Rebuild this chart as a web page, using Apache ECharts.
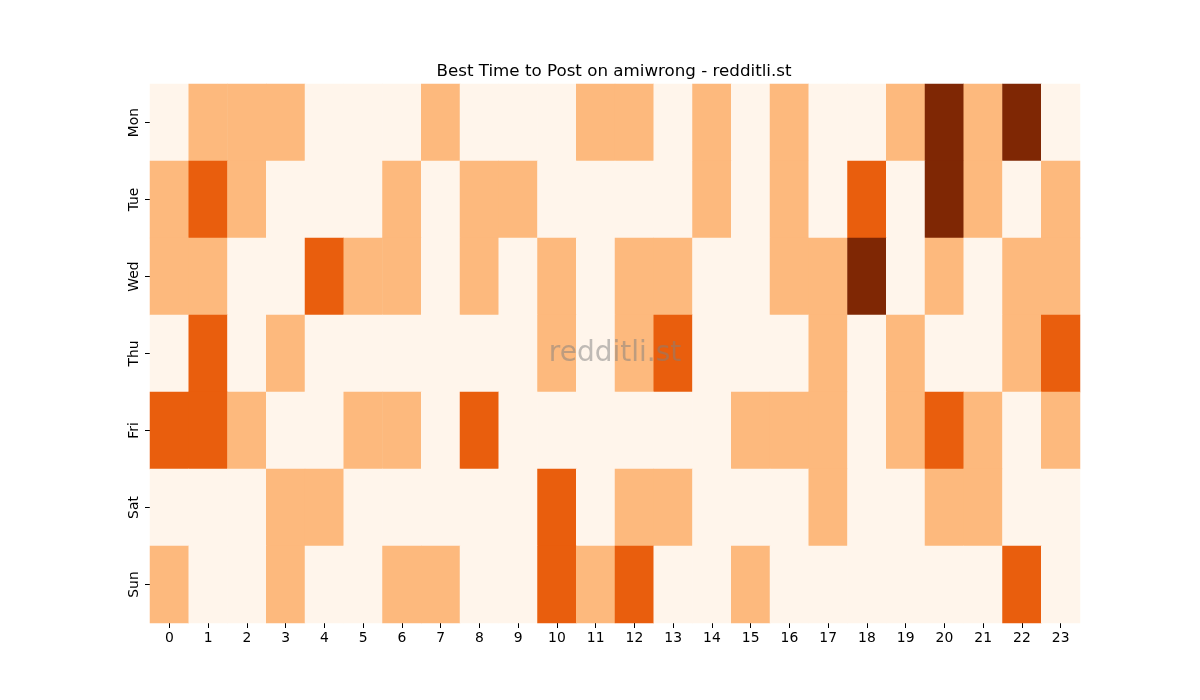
<!DOCTYPE html>
<html>
<head>
<meta charset="utf-8">
<script src="https://cdn.jsdelivr.net/npm/echarts@6/dist/echarts.min.js"></script>
<style>
  html, body { margin: 0; padding: 0; background: #fff; }
  #chart { width: 1200px; height: 700px; }
</style>
</head>
<body>
<div id="chart"></div>
<script>
const hours = ['0','1','2','3','4','5','6','7','8','9','10','11','12','13','14','15','16','17','18','19','20','21','22','23']
const days = ['Mon', 'Tue', 'Wed', 'Thu', 'Fri', 'Sat', 'Sun']

// activity level per hour, one row per day
const mon = [0,1,1,1,0,0,0,1,0,0,0,1,1,0,1,0,1,0,0,1,3,1,3,0]
const tue = [1,2,1,0,0,0,1,0,1,1,0,0,0,0,1,0,1,0,2,0,3,1,0,1]
const wed = [1,1,0,0,2,1,1,0,1,0,1,0,1,1,0,0,1,1,3,0,1,0,1,1]
const thu = [0,2,0,1,0,0,0,0,0,0,1,0,1,2,0,0,0,1,0,1,0,0,1,2]
const fri = [2,2,1,0,0,1,1,0,2,0,0,0,0,0,0,1,1,1,0,1,2,1,0,1]
const sat = [0,0,0,1,1,0,0,0,0,0,2,0,1,1,0,0,0,1,0,0,1,1,0,0]
const sun = [1,0,0,1,0,0,1,1,0,0,2,1,2,0,0,1,0,0,0,0,0,0,2,0]

const rows = [mon, tue, wed, thu, fri, sat, sun]
const cells = []
rows.forEach((row, d) => {
  row.forEach((v, h) => cells.push([h, d, v]))
})

const chart = echarts.init(document.getElementById('chart'))
const font = 'DejaVu Sans'
const option = {
  animation: false,
  title: {
    text: 'Best Time to Post on amiwrong - redditli.st',
    left: 609,
    textAlign: 'center',
    top: 58,
    textStyle: { fontFamily: font, fontSize: 16.7, fontWeight: 'normal', color: '#000' }
  },
  grid: {
    left: 150,
    top: 84,
    width: 930,
    height: 539
  },
  xAxis: {
    type: 'category',
    data: hours,
    axisLine: { show: false },
    axisTick: { show: true, alignWithLabel: true, length: 5, lineStyle: { color: '#000' } },
    axisLabel: { fontFamily: font, fontSize: 13.9, color: '#000', margin: 8, interval: 0 },
    splitLine: { show: false }
  },
  yAxis: {
    type: 'category',
    data: days,
    inverse: true,
    axisLine: { show: false },
    axisTick: { show: true, alignWithLabel: true, length: 5, lineStyle: { color: '#000' } },
    axisLabel: { fontFamily: font, fontSize: 13.9, color: '#000', rotate: 90, margin: 9 },
    splitLine: { show: false }
  },
  visualMap: {
    show: false,
    type: 'piecewise',
    dimension: 2,
    pieces: [
      { value: 0, color: '#fff5eb' },
      { value: 1, color: '#fdb97d' },
      { value: 2, color: '#e95e0d' },
      { value: 3, color: '#7f2704' }
    ]
  },
  series: [
    {
      type: 'heatmap',
      data: cells,
      itemStyle: { borderWidth: 0 },
      emphasis: { disabled: true }
    }
  ],
  graphic: [
    {
      type: 'text',
      z: 100,
      x: 615,
      y: 354,
      style: {
        text: 'redditli.st',
        textAlign: 'center',
        textVerticalAlign: 'middle',
        fontFamily: font,
        fontSize: 28,
        fill: 'rgba(128,128,128,0.5)'
      }
    }
  ]
}
chart.setOption(option)

window.addEventListener('resize', function() {
  chart.resize()
})
</script>
</body>
</html>
